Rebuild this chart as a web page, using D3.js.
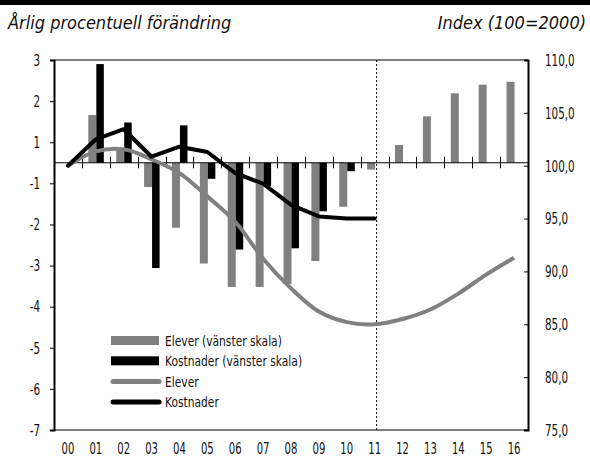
<!DOCTYPE html>
<html>
<head>
<meta charset="utf-8">
<script src="https://cdn.jsdelivr.net/npm/d3@7"></script>
<style>
  body { margin: 0; background: #fff; }
  text { font-family: "DejaVu Sans Condensed", "Liberation Sans Narrow", "Arial Narrow", sans-serif; fill: #111; }
</style>
</head>
<body>
<svg id="chart" width="590" height="457"></svg>
<script>
// data
var years = ["00","01","02","03","04","05","06","07","08","09","10","11","12","13","14","15","16"];
var eleverChange = [null, 1.66, 0.61, -1.09, -2.08, -2.95, -3.52, -3.52, -3.45, -2.89, -1.57, -0.33, 0.86, 1.63, 2.19, 2.4, 2.47];
var kostnaderChange = [null, 2.9, 1.48, -3.06, 1.41, -0.78, -2.61, -1.07, -2.58, -1.68, -0.41, null, null, null, null, null, null];
var eleverIndex = [100, 101.35, 101.55, 100.6, 99.3, 97.1, 94.7, 91.2, 88.4, 86.2, 85.2, 85.0, 85.5, 86.4, 87.9, 89.7, 91.3];
var kostnaderIndex = [100, 102.5, 103.45, 100.85, 101.8, 101.3, 99.3, 98.3, 96.3, 95.2, 95.0, 95.0];
var leftTicks = [3, 2, 1, -1, -2, -3, -4, -5, -6, -7];
var rightTicks = [110, 105, 100, 95, 90, 85, 80, 75];
var legendItems = ["Elever (vänster skala)", "Kostnader (vänster skala)", "Elever", "Kostnader"];
var lastActual = "11";

var dim = { left: 54, right: 528, top: 60, bottom: 430 };
var grey = "#808080";
var sx = 0.7; // squeeze for the narrow axis font

var svg = d3.select("#chart");

// black header strip (title cut off)
svg.append("rect").attr("x", 0).attr("y", 0).attr("width", 590).attr("height", 5).attr("fill", "#000");

var x = d3.scaleBand().domain(years).range([dim.left, dim.right]);
var step = (dim.bottom - dim.top) / 9;
// left axis labels skip 0, so the scale is piecewise
var yLeft = d3.scaleLinear()
  .domain([-7, -1, 1, 3])
  .range([dim.bottom, dim.top + 3 * step, dim.top + 2 * step, dim.top]);
var yRight = d3.scaleLinear().domain([75, 110]).range([dim.bottom, dim.top]);

var y0 = yLeft(0);
var cx = d => x(d) + x.bandwidth() / 2;

// titles
svg.append("text").attr("x", 8).attr("y", 29).style("font-style", "italic").style("font-size", "18px").text("Årlig procentuell förändring");
svg.append("text").attr("x", 586).attr("y", 29).attr("text-anchor", "end").style("font-style", "italic").style("font-size", "18px").text("Index (100=2000)");

// frame: top and bottom grey
svg.append("line").attr("x1", dim.left).attr("x2", dim.right).attr("y1", dim.top).attr("y2", dim.top).attr("stroke", grey).attr("stroke-width", 2);
svg.append("line").attr("x1", dim.left).attr("x2", dim.right).attr("y1", dim.bottom).attr("y2", dim.bottom).attr("stroke", grey).attr("stroke-width", 2);

// bars
var half = 8;
svg.selectAll(".barE").data(years.map((d, i) => ({ y: d, v: eleverChange[i] })).filter(d => d.v !== null))
  .enter().append("rect")
  .attr("x", d => cx(d.y) - half + 0.5)
  .attr("width", half)
  .attr("y", d => Math.min(yLeft(d.v), y0))
  .attr("height", d => Math.abs(yLeft(d.v) - y0))
  .attr("fill", grey);

svg.selectAll(".barK").data(years.map((d, i) => ({ y: d, v: kostnaderChange[i] })).filter(d => d.v !== null))
  .enter().append("rect")
  .attr("x", d => cx(d.y) + 0.5)
  .attr("width", half - 0.5)
  .attr("y", d => Math.min(yLeft(d.v), y0))
  .attr("height", d => Math.abs(yLeft(d.v) - y0))
  .attr("fill", "#000");

// zero line with category ticks
svg.append("line").attr("x1", dim.left).attr("x2", dim.right).attr("y1", y0).attr("y2", y0).attr("stroke", "#000").attr("stroke-width", 1);
svg.selectAll(".ctick").data(years.slice(1)).enter().append("line")
  .attr("x1", d => Math.round(x(d)) + 0.5).attr("x2", d => Math.round(x(d)) + 0.5)
  .attr("y1", y0 - 6).attr("y2", y0 + 5.5)
  .attr("stroke", "#000").attr("stroke-width", 1);

// dotted line at last actual year
var xl = cx(lastActual) + 2;
svg.append("line").attr("x1", xl).attr("x2", xl).attr("y1", dim.top).attr("y2", dim.bottom)
  .attr("stroke", "#000").attr("stroke-width", 1).attr("stroke-dasharray", "2,2");

// lines
var lineE = d3.line().x((d, i) => cx(years[i])).y(d => yRight(d)).curve(d3.curveCatmullRom.alpha(0.5));
var lineK = d3.line().x((d, i) => cx(years[i])).y(d => yRight(d));
svg.append("path").attr("d", lineE(eleverIndex)).attr("fill", "none").attr("stroke", grey).attr("stroke-width", 4).attr("stroke-linejoin", "round");
svg.append("path").attr("d", lineK(kostnaderIndex)).attr("fill", "none").attr("stroke", "#000").attr("stroke-width", 4).attr("stroke-linejoin", "round").attr("stroke-linecap", "round");

// left axis
var leftAxis = svg.append("g").attr("transform", `translate(${dim.left},0)`)
  .call(d3.axisLeft(yLeft).tickValues(leftTicks).tickSize(4).tickFormat(d => d < 0 ? "-" + Math.abs(d) : d));
leftAxis.select(".domain").attr("stroke", "#000").attr("stroke-width", 2);
leftAxis.selectAll(".tick line").attr("stroke", "#000");
leftAxis.selectAll("text").style("font-size", "16.5px").attr("fill", "#111")
  .attr("x", -14 / sx).attr("transform", `scale(${sx},1)`);

// right axis
var rightAxis = svg.append("g").attr("transform", `translate(${dim.right},0)`)
  .call(d3.axisRight(yRight).tickValues(rightTicks).tickSize(-4).tickFormat(d => d3.format(".1f")(d).replace(".", ",")));
rightAxis.select(".domain").attr("stroke", "#000").attr("stroke-width", 2);
rightAxis.selectAll(".tick line").attr("stroke", "#000");
rightAxis.selectAll("text").style("font-size", "16.5px").attr("fill", "#111")
  .attr("x", 17 / sx).attr("transform", `scale(${sx},1)`);

// x labels
svg.selectAll(".xlab").data(years).enter().append("text")
  .attr("transform", d => `translate(${cx(d)},454) scale(${sx},1)`)
  .attr("text-anchor", "middle")
  .style("font-size", "16px")
  .text(d => d);

// legend
var lg = svg.append("g").attr("transform", "translate(111,341)");
var rowH = 20.3;
lg.append("rect").attr("x", 0).attr("y", -5).attr("width", 48).attr("height", 9).attr("fill", grey);
lg.append("rect").attr("x", 0).attr("y", rowH - 5).attr("width", 48).attr("height", 9).attr("fill", "#000");
lg.append("line").attr("x1", 2).attr("x2", 48).attr("y1", 2 * rowH).attr("y2", 2 * rowH).attr("stroke", grey).attr("stroke-width", 5).attr("stroke-linecap", "round");
lg.append("line").attr("x1", 2).attr("x2", 48).attr("y1", 3 * rowH).attr("y2", 3 * rowH).attr("stroke", "#000").attr("stroke-width", 5).attr("stroke-linecap", "round");
lg.selectAll(".ltxt").data(legendItems).enter().append("text")
  .attr("transform", (d, i) => `translate(54,${i * rowH}) scale(0.85,1)`)
  .attr("dy", "0.36em")
  .style("font-size", "14px")
  .text(d => d);
</script>
</body>
</html>
